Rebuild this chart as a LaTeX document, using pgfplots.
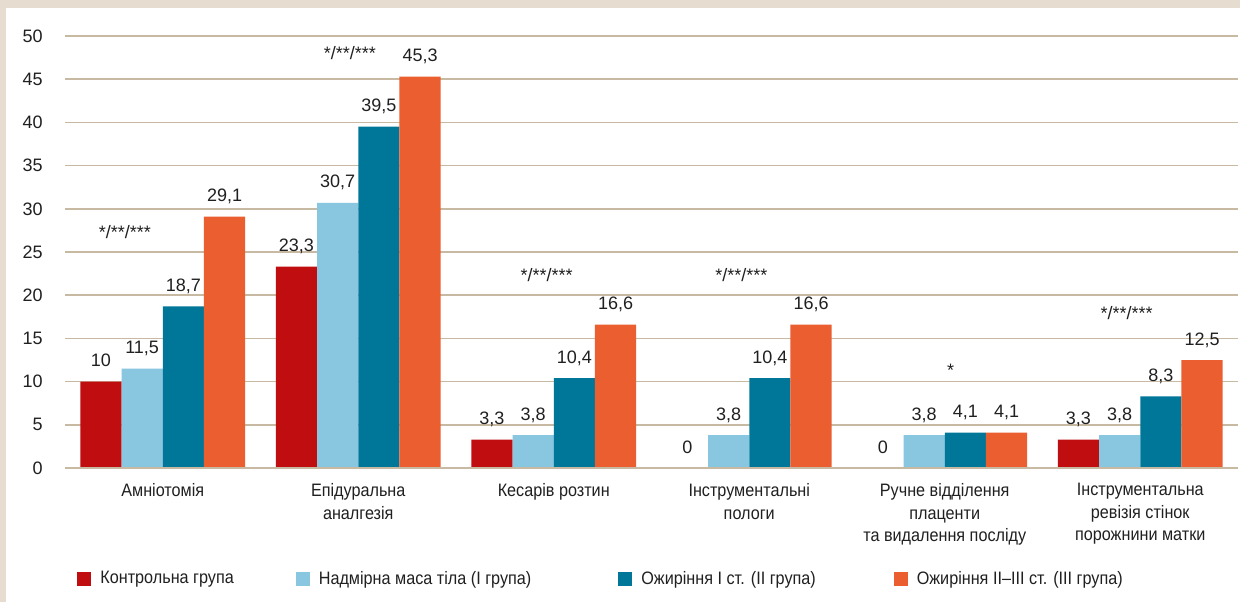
\documentclass[border=0pt]{standalone}
\usepackage{fontspec}
\setmainfont{Liberation Sans}[FakeStretch=0.9]
\newfontfamily\starfont{Liberation Sans}
\usepackage{pgfplots}
\pgfplotsset{compat=1.18}
\definecolor{cRed}{RGB}{192,13,16}
\definecolor{cLight}{RGB}{137,198,224}
\definecolor{cTeal}{RGB}{0,119,153}
\definecolor{cOrange}{RGB}{235,94,48}
\definecolor{gridc}{RGB}{200,186,162}
\definecolor{framec}{RGB}{230,220,207}
\definecolor{txt}{RGB}{32,32,32}
\newcommand{\cfont}{\fontsize{9}{11.25}\selectfont}
\newcommand{\sfont}{\starfont\fontsize{9}{11.25}\selectfont}
\begin{document}
\begin{tikzpicture}
\fill[framec] (-32.5pt,-67pt) rectangle (587.5pt,234pt);
\fill[white] (-29.5pt,-67pt) rectangle (587.5pt,230pt);
\begin{axis}[
  at={(0,0)}, anchor=south west,
  scale only axis, width=586.5pt, height=216pt,
  xmin=-0.5, xmax=5.5, ymin=0, ymax=50,
  enlargelimits=false,
  ybar=0pt, bar width=20.6pt,
  ytick={0,5,...,50},
  xtick={0,1,2,3,4,5},
  xticklabels={Амніотомія,{Епідуральна\\аналгезія},Кесарів розтин,{Інструментальні\\пологи},{Ручне відділення\\плаценти\\та видалення посліду},{Інструментальна\\ревізія стінок\\порожнини матки}},
  major tick length=0pt,
  axis line style={draw=none},
  ymajorgrids, grid style={gridc, line width=0.75pt},
  tick label style={font=\cfont, text=txt},
  yticklabel style={font=\sfont, inner sep=0pt, anchor=east, xshift=-11pt},
  xticklabel style={inner sep=0pt, anchor=north, align=center, yshift=-7.6pt},
  /pgf/number format/assume math mode=true,
  /pgf/number format/use comma,
  nodes near coords,
  nodes near coords style={font=\sfont, text=txt, anchor=base, inner sep=0pt, yshift=7.5pt},
  legend columns=4,
  legend style={at={(0,0)}, anchor=west, xshift=6pt, yshift=-55.5pt,
    draw=none, fill=none, inner sep=0pt, font=\cfont, text=txt,
    nodes={inner sep=0pt},
    cells={anchor=west},
    /tikz/every odd column/.append style={column sep=4.5pt},
    /tikz/column 2/.style={column sep=31pt},
    /tikz/column 4/.style={column sep=43.5pt},
    /tikz/column 6/.style={column sep=39pt}},
  legend image code/.code={\fill[#1] (0pt,-3.5pt) rectangle (7pt,3.5pt);},
]
\addplot[fill=cRed, draw=none] coordinates {(0,10) (1,23.3) (2,3.3) (3,0) (4,0) (5,3.3)};
\addlegendentry{Контрольна група}
\addplot[fill=cLight, draw=none] coordinates {(0,11.5) (1,30.7) (2,3.8) (3,3.8) (4,3.8) (5,3.8)};
\addlegendentry{Надмірна маса тіла (І група)}
\addplot[fill=cTeal, draw=none] coordinates {(0,18.7) (1,39.5) (2,10.4) (3,10.4) (4,4.1) (5,8.3)};
\addlegendentry{Ожиріння І ст. (ІІ група)}
\addplot[fill=cOrange, draw=none] coordinates {(0,29.1) (1,45.3) (2,16.6) (3,16.6) (4,4.1) (5,12.5)};
\addlegendentry{Ожиріння ІІ–ІІІ ст. (ІІІ група)}
\draw[gridc, line width=0.75pt] (axis cs:-0.5,0) -- (axis cs:5.5,0);
\node[font=\sfont, text=txt] at (axis cs:-0.194,27.3) {*/**/***};
\node[font=\sfont, text=txt] at (axis cs:0.957,48.0) {*/**/***};
\node[font=\sfont, text=txt] at (axis cs:1.964,22.3) {*/**/***};
\node[font=\sfont, text=txt] at (axis cs:2.96,22.3) {*/**/***};
\node[font=\sfont, text=txt] at (axis cs:4.03,11.3) {*};
\node[font=\sfont, text=txt] at (axis cs:4.93,17.9) {*/**/***};
\end{axis}
\pgfresetboundingbox
\path[use as bounding box] (-32.5pt,-67pt) rectangle (587.5pt,234pt);
\end{tikzpicture}
\end{document}
